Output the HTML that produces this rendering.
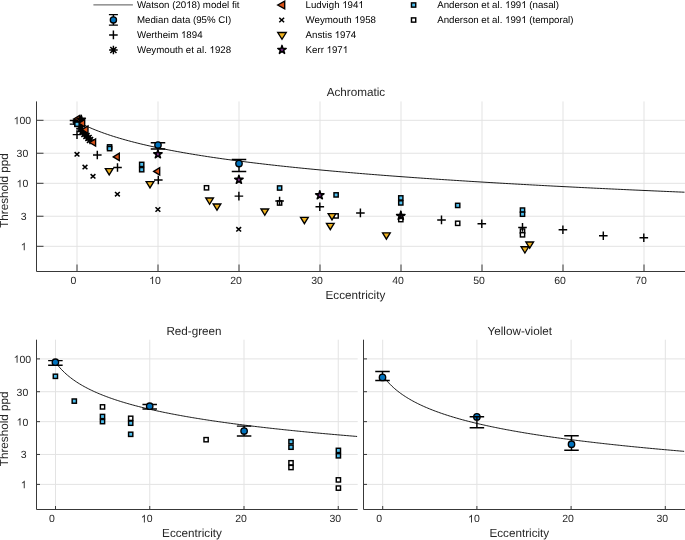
<!DOCTYPE html>
<html><head><meta charset="utf-8"><style>
html,body{margin:0;padding:0;background:#fff;}
body{width:685px;height:540px;overflow:hidden;}
svg{display:block;font-family:"Liberation Sans",sans-serif;will-change:transform;text-rendering:geometricPrecision;}
</style></head><body>
<svg width="685" height="540" viewBox="0 0 685 540">
<rect width="685" height="540" fill="#fff"/>
<path d="M77 101.4V271.5M158 101.4V271.5M239 101.4V271.5M320 101.4V271.5M401 101.4V271.5M482 101.4V271.5M563 101.4V271.5M644 101.4V271.5M36.5 246.3H685M36.5 216.24H685M36.5 183.3H685M36.5 153.24H685M36.5 120.3H685" stroke="#e3e3e3" stroke-width="1" fill="none"/>
<path d="M55.5 339.7V509.5M149.75 339.7V509.5M244 339.7V509.5M338.25 339.7V509.5M36.5 484.4H357.7M36.5 454.46H357.7M36.5 421.65H357.7M36.5 391.71H357.7M36.5 358.9H357.7" stroke="#e3e3e3" stroke-width="1" fill="none"/>
<path d="M382.7 339.7V509.5M476.9 339.7V509.5M571.1 339.7V509.5M665.3 339.7V509.5M363.5 484.4H685M363.5 454.46H685M363.5 421.65H685M363.5 391.71H685M363.5 358.9H685" stroke="#e3e3e3" stroke-width="1" fill="none"/>
<path d="M77 121.42L80.04 123.02L83.08 124.54L86.11 125.98L89.15 127.35L92.19 128.65L95.22 129.9L98.26 131.09L101.3 132.23L104.34 133.33L107.38 134.38L110.41 135.4L113.45 136.38L116.49 137.32L119.53 138.24L122.56 139.12L125.6 139.98L128.64 140.81L131.68 141.62L134.71 142.41L137.75 143.17L140.79 143.91L143.82 144.63L146.86 145.34L149.9 146.03L152.94 146.7L155.97 147.35L159.01 147.99L162.05 148.62L165.09 149.23L168.12 149.82L171.16 150.41L174.2 150.98L177.24 151.54L180.27 152.09L183.31 152.63L186.35 153.16L189.39 153.68L192.43 154.19L195.46 154.69L198.5 155.18L201.54 155.67L204.57 156.14L207.61 156.61L210.65 157.07L213.69 157.52L216.72 157.96L219.76 158.4L222.8 158.83L225.84 159.25L228.88 159.67L231.91 160.08L234.95 160.49L237.99 160.89L241.03 161.28L244.06 161.67L247.1 162.05L250.14 162.43L253.17 162.8L256.21 163.17L259.25 163.53L262.29 163.89L265.32 164.24L268.36 164.59L271.4 164.93L274.44 165.27L277.48 165.61L280.51 165.94L283.55 166.27L286.59 166.59L289.62 166.91L292.66 167.23L295.7 167.54L298.74 167.85L301.77 168.16L304.81 168.46L307.85 168.76L310.89 169.06L313.92 169.35L316.96 169.64L320 169.93L323.04 170.21L326.07 170.49L329.11 170.77L332.15 171.05L335.19 171.32L338.22 171.59L341.26 171.86L344.3 172.12L347.34 172.39L350.38 172.65L353.41 172.9L356.45 173.16L359.49 173.41L362.52 173.66L365.56 173.91L368.6 174.16L371.64 174.4L374.68 174.64L377.71 174.88L380.75 175.12L383.79 175.36L386.82 175.59L389.86 175.82L392.9 176.05L395.94 176.28L398.97 176.51L402.01 176.73L405.05 176.95L408.09 177.17L411.12 177.39L414.16 177.61L417.2 177.82L420.24 178.04L423.27 178.25L426.31 178.46L429.35 178.67L432.39 178.88L435.43 179.08L438.46 179.29L441.5 179.49L444.54 179.69L447.57 179.89L450.61 180.09L453.65 180.29L456.69 180.48L459.72 180.68L462.76 180.87L465.8 181.06L468.84 181.25L471.88 181.44L474.91 181.63L477.95 181.81L480.99 182L484.02 182.18L487.06 182.37L490.1 182.55L493.14 182.73L496.17 182.91L499.21 183.08L502.25 183.26L505.29 183.44L508.32 183.61L511.36 183.78L514.4 183.96L517.44 184.13L520.47 184.3L523.51 184.47L526.55 184.64L529.59 184.8L532.62 184.97L535.66 185.13L538.7 185.3L541.74 185.46L544.77 185.62L547.81 185.79L550.85 185.95L553.89 186.11L556.92 186.26L559.96 186.42L563 186.58L566.04 186.73L569.08 186.89L572.11 187.04L575.15 187.2L578.19 187.35L581.22 187.5L584.26 187.65L587.3 187.8L590.34 187.95L593.38 188.1L596.41 188.25L599.45 188.39L602.49 188.54L605.52 188.68L608.56 188.83L611.6 188.97L614.64 189.12L617.67 189.26L620.71 189.4L623.75 189.54L626.79 189.68L629.82 189.82L632.86 189.96L635.9 190.1L638.94 190.23L641.98 190.37L645.01 190.51L648.05 190.64L651.09 190.78L654.12 190.91L657.16 191.04L660.2 191.18L663.24 191.31L666.27 191.44L669.31 191.57L672.35 191.7L675.39 191.83L678.42 191.96L681.46 192.09L684.5 192.21" stroke="#000" stroke-width="0.9" fill="none"/>
<rect x="204.38" y="185.68" width="4.25" height="4.25" fill="#fff" stroke="#000" stroke-width="1.4500000000000002"/>
<rect x="277.48" y="200.88" width="4.25" height="4.25" fill="#fff" stroke="#000" stroke-width="1.4500000000000002"/>
<rect x="333.98" y="213.78" width="4.25" height="4.25" fill="#fff" stroke="#000" stroke-width="1.4500000000000002"/>
<rect x="398.68" y="217.47" width="4.25" height="4.25" fill="#fff" stroke="#000" stroke-width="1.4500000000000002"/>
<rect x="455.57" y="221.18" width="4.25" height="4.25" fill="#fff" stroke="#000" stroke-width="1.4500000000000002"/>
<rect x="520.38" y="228.97" width="4.25" height="4.25" fill="#fff" stroke="#000" stroke-width="1.4500000000000002"/>
<rect x="520.38" y="232.68" width="4.25" height="4.25" fill="#fff" stroke="#000" stroke-width="1.4500000000000002"/>
<rect x="74.88" y="122.17" width="4.25" height="4.25" fill="#4DBEEE" stroke="#000" stroke-width="1.4500000000000002"/>
<rect x="107.47" y="144.78" width="4.25" height="4.25" fill="#4DBEEE" stroke="#000" stroke-width="1.4500000000000002"/>
<rect x="107.47" y="146.47" width="4.25" height="4.25" fill="#4DBEEE" stroke="#000" stroke-width="1.4500000000000002"/>
<rect x="139.57" y="162.28" width="4.25" height="4.25" fill="#4DBEEE" stroke="#000" stroke-width="1.4500000000000002"/>
<rect x="139.57" y="167.57" width="4.25" height="4.25" fill="#4DBEEE" stroke="#000" stroke-width="1.4500000000000002"/>
<rect x="277.48" y="185.88" width="4.25" height="4.25" fill="#4DBEEE" stroke="#000" stroke-width="1.4500000000000002"/>
<rect x="333.98" y="192.78" width="4.25" height="4.25" fill="#4DBEEE" stroke="#000" stroke-width="1.4500000000000002"/>
<rect x="398.68" y="195.78" width="4.25" height="4.25" fill="#4DBEEE" stroke="#000" stroke-width="1.4500000000000002"/>
<rect x="398.68" y="200.78" width="4.25" height="4.25" fill="#4DBEEE" stroke="#000" stroke-width="1.4500000000000002"/>
<rect x="455.57" y="203.28" width="4.25" height="4.25" fill="#4DBEEE" stroke="#000" stroke-width="1.4500000000000002"/>
<rect x="520.38" y="207.97" width="4.25" height="4.25" fill="#4DBEEE" stroke="#000" stroke-width="1.4500000000000002"/>
<rect x="520.38" y="212.07" width="4.25" height="4.25" fill="#4DBEEE" stroke="#000" stroke-width="1.4500000000000002"/>
<path d="M105.35 168.6L113.05 168.6L109.2 174.9Z" fill="#EDB120" stroke="#000" stroke-width="1.35" stroke-linejoin="miter"/>
<path d="M146.15 181.55L153.85 181.55L150 187.85Z" fill="#EDB120" stroke="#000" stroke-width="1.35" stroke-linejoin="miter"/>
<path d="M205.75 197.95L213.45 197.95L209.6 204.25Z" fill="#EDB120" stroke="#000" stroke-width="1.35" stroke-linejoin="miter"/>
<path d="M213.15 203.95L220.85 203.95L217 210.25Z" fill="#EDB120" stroke="#000" stroke-width="1.35" stroke-linejoin="miter"/>
<path d="M260.95 208.95L268.65 208.95L264.8 215.25Z" fill="#EDB120" stroke="#000" stroke-width="1.35" stroke-linejoin="miter"/>
<path d="M300.55 217.35L308.25 217.35L304.4 223.65Z" fill="#EDB120" stroke="#000" stroke-width="1.35" stroke-linejoin="miter"/>
<path d="M328.15 213.55L335.85 213.55L332 219.85Z" fill="#EDB120" stroke="#000" stroke-width="1.35" stroke-linejoin="miter"/>
<path d="M326.45 223.35L334.15 223.35L330.3 229.65Z" fill="#EDB120" stroke="#000" stroke-width="1.35" stroke-linejoin="miter"/>
<path d="M382.55 232.85L390.25 232.85L386.4 239.15Z" fill="#EDB120" stroke="#000" stroke-width="1.35" stroke-linejoin="miter"/>
<path d="M525.85 241.95L533.55 241.95L529.7 248.25Z" fill="#EDB120" stroke="#000" stroke-width="1.35" stroke-linejoin="miter"/>
<path d="M521.05 246.75L528.75 246.75L524.9 253.05Z" fill="#EDB120" stroke="#000" stroke-width="1.35" stroke-linejoin="miter"/>
<path d="M77 120.4V124.1M69.75 120.4H84.25M69.75 124.1H84.25" stroke="#000" stroke-width="1.45" fill="none"/>
<circle cx="77" cy="122.3" r="3.2" fill="#0072BD" stroke="#000" stroke-width="1.35"/>
<path d="M73.6 119L79.6 115.35L79.6 122.65Z" fill="#D95319" stroke="#000" stroke-width="1.35" stroke-linejoin="miter"/>
<path d="M72.5 122H79.5M76 118.5V125.5M73.48 119.48L78.52 124.52M73.48 124.52L78.52 119.48" stroke="#000" stroke-width="1.45" fill="none"/>
<path d="M81.2 115.2L82.16 118.28L85.38 118.24L82.75 120.1L83.79 123.16L81.2 121.23L78.61 123.16L79.65 120.1L77.02 118.24L80.24 118.28Z" fill="#000" stroke="#000" stroke-width="1.55" stroke-linejoin="round"/>
<path d="M76.5 126.4H85.1M80.8 122.1V130.7M77.7 123.3L83.9 129.5M77.7 129.5L83.9 123.3" stroke="#000" stroke-width="1.45" fill="none"/>
<path d="M76.2 128.8H84.8M80.5 124.5V133.1M77.4 125.7L83.6 131.9M77.4 131.9L83.6 125.7" stroke="#000" stroke-width="1.45" fill="none"/>
<path d="M78.2 131.5H86.8M82.5 127.2V135.8M79.4 128.4L85.6 134.6M79.4 134.6L85.6 128.4" stroke="#000" stroke-width="1.45" fill="none"/>
<path d="M80.2 134H88.8M84.5 129.7V138.3M81.4 130.9L87.6 137.1M81.4 137.1L87.6 130.9" stroke="#000" stroke-width="1.45" fill="none"/>
<path d="M82.2 136H90.8M86.5 131.7V140.3M83.4 132.9L89.6 139.1M83.4 139.1L89.6 132.9" stroke="#000" stroke-width="1.45" fill="none"/>
<path d="M84.2 138H92.8M88.5 133.7V142.3M85.4 134.9L91.6 141.1M85.4 141.1L91.6 134.9" stroke="#000" stroke-width="1.45" fill="none"/>
<path d="M85.7 140H94.3M90 135.7V144.3M86.9 136.9L93.1 143.1M86.9 143.1L93.1 136.9" stroke="#000" stroke-width="1.45" fill="none"/>
<path d="M78.7 123.2L84.7 119.55L84.7 126.85Z" fill="#D95319" stroke="#000" stroke-width="1.35" stroke-linejoin="miter"/>
<path d="M82 129.6L88 125.95L88 133.25Z" fill="#D95319" stroke="#000" stroke-width="1.35" stroke-linejoin="miter"/>
<path d="M89.6 142.5L95.6 138.85L95.6 146.15Z" fill="#D95319" stroke="#000" stroke-width="1.35" stroke-linejoin="miter"/>
<path d="M113.3 156.9L119.3 153.25L119.3 160.55Z" fill="#D95319" stroke="#000" stroke-width="1.35" stroke-linejoin="miter"/>
<path d="M153.7 171.4L159.7 167.75L159.7 175.05Z" fill="#D95319" stroke="#000" stroke-width="1.35" stroke-linejoin="miter"/>
<rect x="74.88" y="122.08" width="4.25" height="4.25" fill="#4DBEEE" stroke="#000" stroke-width="1.4500000000000002"/>
<path d="M158 142.8V148.9M150.75 142.8H165.25M150.75 148.9H165.25" stroke="#000" stroke-width="1.45" fill="none"/>
<path d="M239 159.4V171.5M231.75 159.4H246.25M231.75 171.5H246.25" stroke="#000" stroke-width="1.45" fill="none"/>
<circle cx="158" cy="145" r="3.2" fill="#0072BD" stroke="#000" stroke-width="1.35"/>
<circle cx="239" cy="163.5" r="3.2" fill="#0072BD" stroke="#000" stroke-width="1.35"/>
<path d="M157.9 149.8L158.86 152.88L162.08 152.84L159.45 154.7L160.49 157.76L157.9 155.83L155.31 157.76L156.35 154.7L153.72 152.84L156.94 152.88Z" fill="#7E2F8E" stroke="#000" stroke-width="1.55" stroke-linejoin="round"/>
<path d="M238.9 175.3L239.86 178.38L243.08 178.34L240.45 180.2L241.49 183.26L238.9 181.33L236.31 183.26L237.35 180.2L234.72 178.34L237.94 178.38Z" fill="#7E2F8E" stroke="#000" stroke-width="1.55" stroke-linejoin="round"/>
<path d="M319.8 190.8L320.76 193.88L323.98 193.84L321.35 195.7L322.39 198.76L319.8 196.83L317.21 198.76L318.25 195.7L315.62 193.84L318.84 193.88Z" fill="#7E2F8E" stroke="#000" stroke-width="1.55" stroke-linejoin="round"/>
<path d="M400.8 211.4L401.76 214.48L404.98 214.44L402.35 216.3L403.39 219.36L400.8 217.43L398.21 219.36L399.25 216.3L396.62 214.44L399.84 214.48Z" fill="#7E2F8E" stroke="#000" stroke-width="1.55" stroke-linejoin="round"/>
<path d="M72.7 134.6H81.3M77 130.3V138.9" stroke="#000" stroke-width="1.45" fill="none"/>
<path d="M93 155H101.6M97.3 150.7V159.3" stroke="#000" stroke-width="1.45" fill="none"/>
<path d="M113.2 167.5H121.8M117.5 163.2V171.8" stroke="#000" stroke-width="1.45" fill="none"/>
<path d="M154 180H162.6M158.3 175.7V184.3" stroke="#000" stroke-width="1.45" fill="none"/>
<path d="M234.6 196.1H243.2M238.9 191.8V200.4" stroke="#000" stroke-width="1.45" fill="none"/>
<path d="M275.3 201H283.9M279.6 196.7V205.3" stroke="#000" stroke-width="1.45" fill="none"/>
<path d="M315.5 206.8H324.1M319.8 202.5V211.1" stroke="#000" stroke-width="1.45" fill="none"/>
<path d="M356.1 212.9H364.7M360.4 208.6V217.2" stroke="#000" stroke-width="1.45" fill="none"/>
<path d="M396.5 215H405.1M400.8 210.7V219.3" stroke="#000" stroke-width="1.45" fill="none"/>
<path d="M437.2 219.9H445.8M441.5 215.6V224.2" stroke="#000" stroke-width="1.45" fill="none"/>
<path d="M477.5 223.8H486.1M481.8 219.5V228.1" stroke="#000" stroke-width="1.45" fill="none"/>
<path d="M518.2 227.4H526.8M522.5 223.1V231.7" stroke="#000" stroke-width="1.45" fill="none"/>
<path d="M558.6 229.8H567.2M562.9 225.5V234.1" stroke="#000" stroke-width="1.45" fill="none"/>
<path d="M599 235.7H607.6M603.3 231.4V240" stroke="#000" stroke-width="1.45" fill="none"/>
<path d="M639.5 237.8H648.1M643.8 233.5V242.1" stroke="#000" stroke-width="1.45" fill="none"/>
<path d="M74.6 152.1L79.4 156.5M74.6 156.5L79.4 152.1" stroke="#000" stroke-width="1.55" fill="none"/>
<path d="M82.6 164.9L87.4 169.3M82.6 169.3L87.4 164.9" stroke="#000" stroke-width="1.55" fill="none"/>
<path d="M90.6 174.1L95.4 178.5M90.6 178.5L95.4 174.1" stroke="#000" stroke-width="1.55" fill="none"/>
<path d="M115 192L119.8 196.4M115 196.4L119.8 192" stroke="#000" stroke-width="1.55" fill="none"/>
<path d="M155.5 207.3L160.3 211.7M155.5 211.7L160.3 207.3" stroke="#000" stroke-width="1.55" fill="none"/>
<path d="M236.3 227.1L241.1 231.5M236.3 231.5L241.1 227.1" stroke="#000" stroke-width="1.55" fill="none"/>
<path d="M55.5 362.24L57.01 364.27L58.52 366.15L60.02 367.91L61.53 369.55L63.04 371.1L64.55 372.56L66.06 373.95L67.56 375.26L69.07 376.51L70.58 377.7L72.09 378.85L73.6 379.94L75.1 380.99L76.61 382L78.12 382.97L79.63 383.91L81.14 384.81L82.64 385.68L84.15 386.53L85.66 387.35L87.17 388.14L88.68 388.91L90.18 389.66L91.69 390.39L93.2 391.1L94.71 391.79L96.22 392.46L97.72 393.11L99.23 393.75L100.74 394.38L102.25 394.99L103.76 395.58L105.26 396.16L106.77 396.73L108.28 397.29L109.79 397.83L111.3 398.37L112.8 398.89L114.31 399.4L115.82 399.91L117.33 400.4L118.84 400.89L120.34 401.36L121.85 401.83L123.36 402.29L124.87 402.74L126.38 403.18L127.88 403.62L129.39 404.05L130.9 404.47L132.41 404.89L133.92 405.29L135.42 405.7L136.93 406.09L138.44 406.48L139.95 406.87L141.46 407.25L142.96 407.62L144.47 407.99L145.98 408.35L147.49 408.71L149 409.06L150.5 409.41L152.01 409.76L153.52 410.1L155.03 410.43L156.54 410.76L158.04 411.09L159.55 411.41L161.06 411.73L162.57 412.05L164.08 412.36L165.58 412.66L167.09 412.97L168.6 413.27L170.11 413.57L171.62 413.86L173.12 414.15L174.63 414.44L176.14 414.72L177.65 415L179.16 415.28L180.66 415.56L182.17 415.83L183.68 416.1L185.19 416.37L186.7 416.63L188.2 416.89L189.71 417.15L191.22 417.41L192.73 417.66L194.24 417.91L195.74 418.16L197.25 418.41L198.76 418.65L200.27 418.89L201.78 419.13L203.28 419.37L204.79 419.61L206.3 419.84L207.81 420.07L209.32 420.3L210.82 420.53L212.33 420.75L213.84 420.98L215.35 421.2L216.86 421.42L218.36 421.63L219.87 421.85L221.38 422.06L222.89 422.28L224.4 422.49L225.9 422.7L227.41 422.9L228.92 423.11L230.43 423.31L231.94 423.52L233.44 423.72L234.95 423.92L236.46 424.12L237.97 424.31L239.48 424.51L240.98 424.7L242.49 424.89L244 425.08L245.51 425.27L247.02 425.46L248.52 425.65L250.03 425.83L251.54 426.02L253.05 426.2L254.56 426.38L256.06 426.56L257.57 426.74L259.08 426.92L260.59 427.09L262.1 427.27L263.6 427.44L265.11 427.62L266.62 427.79L268.13 427.96L269.64 428.13L271.14 428.3L272.65 428.47L274.16 428.63L275.67 428.8L277.18 428.96L278.68 429.12L280.19 429.29L281.7 429.45L283.21 429.61L284.72 429.77L286.22 429.93L287.73 430.08L289.24 430.24L290.75 430.4L292.26 430.55L293.76 430.7L295.27 430.86L296.78 431.01L298.29 431.16L299.8 431.31L301.3 431.46L302.81 431.61L304.32 431.75L305.83 431.9L307.34 432.05L308.84 432.19L310.35 432.34L311.86 432.48L313.37 432.62L314.88 432.77L316.38 432.91L317.89 433.05L319.4 433.19L320.91 433.33L322.42 433.46L323.92 433.6L325.43 433.74L326.94 433.87L328.45 434.01L329.96 434.14L331.46 434.28L332.97 434.41L334.48 434.54L335.99 434.68L337.5 434.81L339 434.94L340.51 435.07L342.02 435.2L343.53 435.33L345.04 435.45L346.54 435.58L348.05 435.71L349.56 435.83L351.07 435.96L352.58 436.09L354.08 436.21L355.59 436.33L357.1 436.46" stroke="#000" stroke-width="0.9" fill="none"/>
<rect x="100.38" y="404.77" width="4.25" height="4.25" fill="#fff" stroke="#000" stroke-width="1.4500000000000002"/>
<rect x="128.57" y="416.18" width="4.25" height="4.25" fill="#fff" stroke="#000" stroke-width="1.4500000000000002"/>
<rect x="203.97" y="437.57" width="4.25" height="4.25" fill="#fff" stroke="#000" stroke-width="1.4500000000000002"/>
<rect x="288.88" y="460.68" width="4.25" height="4.25" fill="#fff" stroke="#000" stroke-width="1.4500000000000002"/>
<rect x="288.88" y="465.38" width="4.25" height="4.25" fill="#fff" stroke="#000" stroke-width="1.4500000000000002"/>
<rect x="336.27" y="477.77" width="4.25" height="4.25" fill="#fff" stroke="#000" stroke-width="1.4500000000000002"/>
<rect x="336.27" y="485.98" width="4.25" height="4.25" fill="#fff" stroke="#000" stroke-width="1.4500000000000002"/>
<rect x="53.27" y="374.18" width="4.25" height="4.25" fill="#4DBEEE" stroke="#000" stroke-width="1.4500000000000002"/>
<rect x="72.17" y="398.98" width="4.25" height="4.25" fill="#4DBEEE" stroke="#000" stroke-width="1.4500000000000002"/>
<rect x="100.38" y="414.38" width="4.25" height="4.25" fill="#4DBEEE" stroke="#000" stroke-width="1.4500000000000002"/>
<rect x="100.38" y="419.48" width="4.25" height="4.25" fill="#4DBEEE" stroke="#000" stroke-width="1.4500000000000002"/>
<rect x="128.57" y="421.07" width="4.25" height="4.25" fill="#4DBEEE" stroke="#000" stroke-width="1.4500000000000002"/>
<rect x="128.57" y="432.18" width="4.25" height="4.25" fill="#4DBEEE" stroke="#000" stroke-width="1.4500000000000002"/>
<rect x="288.88" y="439.57" width="4.25" height="4.25" fill="#4DBEEE" stroke="#000" stroke-width="1.4500000000000002"/>
<rect x="288.88" y="445.07" width="4.25" height="4.25" fill="#4DBEEE" stroke="#000" stroke-width="1.4500000000000002"/>
<rect x="336.27" y="448.27" width="4.25" height="4.25" fill="#4DBEEE" stroke="#000" stroke-width="1.4500000000000002"/>
<rect x="336.27" y="453.68" width="4.25" height="4.25" fill="#4DBEEE" stroke="#000" stroke-width="1.4500000000000002"/>
<path d="M55.4 360.6V365.2M48.15 360.6H62.65M48.15 365.2H62.65" stroke="#000" stroke-width="1.45" fill="none"/>
<circle cx="55.4" cy="362.2" r="3.2" fill="#0072BD" stroke="#000" stroke-width="1.35"/>
<path d="M149.7 404.5V408.9M142.45 404.5H156.95M142.45 408.9H156.95" stroke="#000" stroke-width="1.45" fill="none"/>
<circle cx="149.7" cy="406.2" r="3.2" fill="#0072BD" stroke="#000" stroke-width="1.35"/>
<path d="M244.1 426.1V436M236.85 426.1H251.35M236.85 436H251.35" stroke="#000" stroke-width="1.45" fill="none"/>
<circle cx="244.1" cy="431" r="3.2" fill="#0072BD" stroke="#000" stroke-width="1.35"/>
<path d="M382.7 375.52L384.21 377.57L385.71 379.47L387.22 381.25L388.73 382.92L390.24 384.48L391.74 385.97L393.25 387.37L394.76 388.71L396.26 389.98L397.77 391.19L399.28 392.35L400.79 393.47L402.29 394.54L403.8 395.56L405.31 396.56L406.82 397.51L408.32 398.43L409.83 399.32L411.34 400.19L412.84 401.02L414.35 401.83L415.86 402.62L417.37 403.38L418.87 404.13L420.38 404.85L421.89 405.56L423.39 406.24L424.9 406.91L426.41 407.56L427.92 408.2L429.42 408.82L430.93 409.43L432.44 410.03L433.94 410.61L435.45 411.18L436.96 411.74L438.47 412.28L439.97 412.82L441.48 413.35L442.99 413.86L444.5 414.37L446 414.86L447.51 415.35L449.02 415.83L450.52 416.3L452.03 416.76L453.54 417.21L455.05 417.66L456.55 418.1L458.06 418.53L459.57 418.96L461.07 419.38L462.58 419.79L464.09 420.19L465.6 420.59L467.1 420.99L468.61 421.38L470.12 421.76L471.62 422.14L473.13 422.51L474.64 422.88L476.15 423.24L477.65 423.6L479.16 423.95L480.67 424.3L482.18 424.64L483.68 424.98L485.19 425.31L486.7 425.65L488.2 425.97L489.71 426.3L491.22 426.61L492.73 426.93L494.23 427.24L495.74 427.55L497.25 427.85L498.75 428.16L500.26 428.45L501.77 428.75L503.28 429.04L504.78 429.33L506.29 429.61L507.8 429.9L509.3 430.17L510.81 430.45L512.32 430.72L513.83 431L515.33 431.26L516.84 431.53L518.35 431.79L519.86 432.05L521.36 432.31L522.87 432.57L524.38 432.82L525.88 433.07L527.39 433.32L528.9 433.56L530.41 433.81L531.91 434.05L533.42 434.29L534.93 434.53L536.43 434.76L537.94 434.99L539.45 435.23L540.96 435.45L542.46 435.68L543.97 435.91L545.48 436.13L546.98 436.35L548.49 436.57L550 436.79L551.51 437.01L553.01 437.22L554.52 437.43L556.03 437.64L557.54 437.85L559.04 438.06L560.55 438.27L562.06 438.47L563.56 438.68L565.07 438.88L566.58 439.08L568.09 439.28L569.59 439.47L571.1 439.67L572.61 439.86L574.11 440.06L575.62 440.25L577.13 440.44L578.64 440.63L580.14 440.82L581.65 441L583.16 441.19L584.66 441.37L586.17 441.55L587.68 441.73L589.19 441.91L590.69 442.09L592.2 442.27L593.71 442.45L595.22 442.62L596.72 442.8L598.23 442.97L599.74 443.14L601.24 443.31L602.75 443.48L604.26 443.65L605.77 443.82L607.27 443.99L608.78 444.15L610.29 444.32L611.79 444.48L613.3 444.64L614.81 444.8L616.32 444.96L617.82 445.12L619.33 445.28L620.84 445.44L622.34 445.6L623.85 445.75L625.36 445.91L626.87 446.06L628.37 446.22L629.88 446.37L631.39 446.52L632.9 446.67L634.4 446.82L635.91 446.97L637.42 447.12L638.92 447.26L640.43 447.41L641.94 447.56L643.45 447.7L644.95 447.85L646.46 447.99L647.97 448.13L649.47 448.27L650.98 448.42L652.49 448.56L654 448.7L655.5 448.83L657.01 448.97L658.52 449.11L660.02 449.25L661.53 449.38L663.04 449.52L664.55 449.65L666.05 449.79L667.56 449.92L669.07 450.05L670.58 450.19L672.08 450.32L673.59 450.45L675.1 450.58L676.6 450.71L678.11 450.84L679.62 450.97L681.13 451.09L682.63 451.22L684.14 451.35" stroke="#000" stroke-width="0.9" fill="none"/>
<path d="M382.5 371.4V380.4M375.25 371.4H389.75M375.25 380.4H389.75" stroke="#000" stroke-width="1.45" fill="none"/>
<circle cx="382.5" cy="377.4" r="3.2" fill="#0072BD" stroke="#000" stroke-width="1.35"/>
<circle cx="476.9" cy="416.9" r="3.2" fill="#0072BD" stroke="#000" stroke-width="1.35"/>
<path d="M476.9 416.8V427.7M469.65 416.8H484.15M469.65 427.7H484.15" stroke="#000" stroke-width="1.45" fill="none"/>
<path d="M571.5 435.8V450.3M564.25 435.8H578.75M564.25 450.3H578.75" stroke="#000" stroke-width="1.45" fill="none"/>
<circle cx="571.5" cy="444.2" r="3.2" fill="#0072BD" stroke="#000" stroke-width="1.35"/>
<path d="M77 271.5V264.5M158 271.5V264.5M239 271.5V264.5M320 271.5V264.5M401 271.5V264.5M482 271.5V264.5M563 271.5V264.5M644 271.5V264.5M36.5 246.3H43.5M36.5 216.24H43.5M36.5 183.3H43.5M36.5 153.24H43.5M36.5 120.3H43.5" stroke="#383838" stroke-width="1" fill="none"/>
<path d="M36.5 101.4V271.5H685" stroke="#383838" stroke-width="1" fill="none"/>
<path d="M55.5 509.5V506M149.75 509.5V506M244 509.5V506M338.25 509.5V506M36.5 484.4H40M36.5 454.46H40M36.5 421.65H40M36.5 391.71H40M36.5 358.9H40" stroke="#383838" stroke-width="1" fill="none"/>
<path d="M36.5 339.7V509.5H357.7" stroke="#383838" stroke-width="1" fill="none"/>
<path d="M382.7 509.5V506M476.9 509.5V506M571.1 509.5V506M665.3 509.5V506M363.5 484.4H367M363.5 454.46H367M363.5 421.65H367M363.5 391.71H367M363.5 358.9H367" stroke="#383838" stroke-width="1" fill="none"/>
<path d="M363.5 339.7V509.5H685" stroke="#383838" stroke-width="1" fill="none"/>
<text x="73.4" y="284" font-size="10.5" text-anchor="middle" fill="#262626" >0</text>
<text x="155" y="284" font-size="10.5" text-anchor="middle" fill="#262626" > 0</text>
<path transform="translate(149.16 284) scale(0.005127 -0.005127)" d="M763 0H583V1147Q518 1085 412.5 1023T223 930V1104Q374 1175 487 1276T647 1472H763V0Z" fill="#262626"/>
<text x="236" y="284" font-size="10.5" text-anchor="middle" fill="#262626" >20</text>
<text x="317" y="284" font-size="10.5" text-anchor="middle" fill="#262626" >30</text>
<text x="398" y="284" font-size="10.5" text-anchor="middle" fill="#262626" >40</text>
<text x="479" y="284" font-size="10.5" text-anchor="middle" fill="#262626" >50</text>
<text x="560" y="284" font-size="10.5" text-anchor="middle" fill="#262626" >60</text>
<text x="641" y="284" font-size="10.5" text-anchor="middle" fill="#262626" >70</text>
<text x="23.7" y="250.2" font-size="10.5" text-anchor="middle" fill="#262626" > </text>
<path transform="translate(20.78 250.2) scale(0.005127 -0.005127)" d="M763 0H583V1147Q518 1085 412.5 1023T223 930V1104Q374 1175 487 1276T647 1472H763V0Z" fill="#262626"/>
<text x="23.7" y="219.74" font-size="10.5" text-anchor="middle" fill="#262626" >3</text>
<text x="22.4" y="187.2" font-size="10.5" text-anchor="middle" fill="#262626" > 0</text>
<path transform="translate(16.56 187.2) scale(0.005127 -0.005127)" d="M763 0H583V1147Q518 1085 412.5 1023T223 930V1104Q374 1175 487 1276T647 1472H763V0Z" fill="#262626"/>
<text x="22.4" y="157.14" font-size="10.5" text-anchor="middle" fill="#262626" >30</text>
<text x="22.4" y="124.2" font-size="10.5" text-anchor="middle" fill="#262626" > 00</text>
<path transform="translate(13.63 124.2) scale(0.005127 -0.005127)" d="M763 0H583V1147Q518 1085 412.5 1023T223 930V1104Q374 1175 487 1276T647 1472H763V0Z" fill="#262626"/>
<text x="51.9" y="522.4" font-size="10.5" text-anchor="middle" fill="#262626" >0</text>
<text x="146.75" y="522.4" font-size="10.5" text-anchor="middle" fill="#262626" > 0</text>
<path transform="translate(140.91 522.4) scale(0.005127 -0.005127)" d="M763 0H583V1147Q518 1085 412.5 1023T223 930V1104Q374 1175 487 1276T647 1472H763V0Z" fill="#262626"/>
<text x="241" y="522.4" font-size="10.5" text-anchor="middle" fill="#262626" >20</text>
<text x="335.25" y="522.4" font-size="10.5" text-anchor="middle" fill="#262626" >30</text>
<text x="379.1" y="522.4" font-size="10.5" text-anchor="middle" fill="#262626" >0</text>
<text x="473.9" y="522.4" font-size="10.5" text-anchor="middle" fill="#262626" > 0</text>
<path transform="translate(468.06 522.4) scale(0.005127 -0.005127)" d="M763 0H583V1147Q518 1085 412.5 1023T223 930V1104Q374 1175 487 1276T647 1472H763V0Z" fill="#262626"/>
<text x="568.1" y="522.4" font-size="10.5" text-anchor="middle" fill="#262626" >20</text>
<text x="662.3" y="522.4" font-size="10.5" text-anchor="middle" fill="#262626" >30</text>
<text x="23.7" y="488.3" font-size="10.5" text-anchor="middle" fill="#262626" > </text>
<path transform="translate(20.78 488.3) scale(0.005127 -0.005127)" d="M763 0H583V1147Q518 1085 412.5 1023T223 930V1104Q374 1175 487 1276T647 1472H763V0Z" fill="#262626"/>
<text x="23.7" y="457.96" font-size="10.5" text-anchor="middle" fill="#262626" >3</text>
<text x="22.4" y="425.55" font-size="10.5" text-anchor="middle" fill="#262626" > 0</text>
<path transform="translate(16.56 425.55) scale(0.005127 -0.005127)" d="M763 0H583V1147Q518 1085 412.5 1023T223 930V1104Q374 1175 487 1276T647 1472H763V0Z" fill="#262626"/>
<text x="22.4" y="395.61" font-size="10.5" text-anchor="middle" fill="#262626" >30</text>
<text x="22.4" y="362.8" font-size="10.5" text-anchor="middle" fill="#262626" > 00</text>
<path transform="translate(13.63 362.8) scale(0.005127 -0.005127)" d="M763 0H583V1147Q518 1085 412.5 1023T223 930V1104Q374 1175 487 1276T647 1472H763V0Z" fill="#262626"/>
<text x="355.9" y="96.1" font-size="11.7" text-anchor="middle" fill="#262626" >Achromatic</text>
<text x="355.4" y="298.8" font-size="11.7" text-anchor="middle" fill="#262626" >Eccentricity</text>
<text x="194" y="334.7" font-size="11.7" text-anchor="middle" fill="#262626" >Red-green</text>
<text x="519.8" y="334.7" font-size="11.7" text-anchor="middle" fill="#262626" >Yellow-violet</text>
<text x="192" y="537" font-size="11.7" text-anchor="middle" fill="#262626" >Eccentricity</text>
<text x="519.3" y="537" font-size="11.7" text-anchor="middle" fill="#262626" >Eccentricity</text>
<text transform="translate(8.3 190.5) rotate(-90)" font-size="11.7" text-anchor="middle" fill="#262626">Threshold ppd</text>
<text transform="translate(8.3 428.8) rotate(-90)" font-size="11.7" text-anchor="middle" fill="#262626">Threshold ppd</text>
<path d="M93.4 4.9H132.9" stroke="#555" stroke-width="1" fill="none"/>
<text x="137" y="8" font-size="9.7" text-anchor="start" fill="#000" >Watson (20 8) model fit</text>
<path transform="translate(186.17 8) scale(0.004736 -0.004736)" d="M763 0H583V1147Q518 1085 412.5 1023T223 930V1104Q374 1175 487 1276T647 1472H763V0Z" fill="#000"/>
<path d="M113.4 14.6V25.1M108.9 14.6H117.9M108.9 25.1H117.9" stroke="#000" stroke-width="1.45" fill="none"/>
<circle cx="113.4" cy="19.9" r="3.1" fill="#0072BD" stroke="#000" stroke-width="1.35"/>
<text x="137" y="23" font-size="9.7" text-anchor="start" fill="#000" >Median data (95% CI)</text>
<path d="M109.1 34.9H117.7M113.4 30.6V39.2" stroke="#000" stroke-width="1.45" fill="none"/>
<text x="137" y="38" font-size="9.7" text-anchor="start" fill="#000" >Wertheim  894</text>
<path transform="translate(180.95 38) scale(0.004736 -0.004736)" d="M763 0H583V1147Q518 1085 412.5 1023T223 930V1104Q374 1175 487 1276T647 1472H763V0Z" fill="#000"/>
<path d="M109.1 50H117.7M113.4 45.7V54.3M110.3 46.9L116.5 53.1M110.3 53.1L116.5 46.9" stroke="#000" stroke-width="1.45" fill="none"/>
<text x="137" y="53" font-size="9.7" text-anchor="start" fill="#000" >Weymouth et al.  928</text>
<path transform="translate(209.5 53) scale(0.004736 -0.004736)" d="M763 0H583V1147Q518 1085 412.5 1023T223 930V1104Q374 1175 487 1276T647 1472H763V0Z" fill="#000"/>
<path d="M277.7 5L284.7 1.1L284.7 8.9Z" fill="#D95319" stroke="#000" stroke-width="1.35" stroke-linejoin="miter"/>
<text x="305.6" y="8" font-size="9.7" text-anchor="start" fill="#000" >Ludvigh  94 </text>
<path transform="translate(342.23 8) scale(0.004736 -0.004736)" d="M763 0H583V1147Q518 1085 412.5 1023T223 930V1104Q374 1175 487 1276T647 1472H763V0Z" fill="#000"/>
<path transform="translate(358.38 8) scale(0.004736 -0.004736)" d="M763 0H583V1147Q518 1085 412.5 1023T223 930V1104Q374 1175 487 1276T647 1472H763V0Z" fill="#000"/>
<path d="M279.3 17.8L284.1 22.2M279.3 22.2L284.1 17.8" stroke="#000" stroke-width="1.55" fill="none"/>
<text x="305.6" y="23" font-size="9.7" text-anchor="start" fill="#000" >Weymouth  958</text>
<path transform="translate(354.41 23) scale(0.004736 -0.004736)" d="M763 0H583V1147Q518 1085 412.5 1023T223 930V1104Q374 1175 487 1276T647 1472H763V0Z" fill="#000"/>
<path d="M277.75 32.5L286.25 32.5L282 39.3Z" fill="#EDB120" stroke="#000" stroke-width="1.35" stroke-linejoin="miter"/>
<text x="305.6" y="38" font-size="9.7" text-anchor="start" fill="#000" >Anstis  974</text>
<path transform="translate(334.66 38) scale(0.004736 -0.004736)" d="M763 0H583V1147Q518 1085 412.5 1023T223 930V1104Q374 1175 487 1276T647 1472H763V0Z" fill="#000"/>
<path d="M282 45.4L282.96 48.48L286.18 48.44L283.55 50.3L284.59 53.36L282 51.43L279.41 53.36L280.45 50.3L277.82 48.44L281.04 48.48Z" fill="#7E2F8E" stroke="#000" stroke-width="1.55" stroke-linejoin="round"/>
<text x="305.6" y="53" font-size="9.7" text-anchor="start" fill="#000" >Kerr  97 </text>
<path transform="translate(326.58 53) scale(0.004736 -0.004736)" d="M763 0H583V1147Q518 1085 412.5 1023T223 930V1104Q374 1175 487 1276T647 1472H763V0Z" fill="#000"/>
<path transform="translate(342.74 53) scale(0.004736 -0.004736)" d="M763 0H583V1147Q518 1085 412.5 1023T223 930V1104Q374 1175 487 1276T647 1472H763V0Z" fill="#000"/>
<rect x="411.48" y="2.88" width="4.25" height="4.25" fill="#4DBEEE" stroke="#000" stroke-width="1.4500000000000002"/>
<text x="437.2" y="8" font-size="9.7" text-anchor="start" fill="#000" >Anderson et al.  99  (nasal)</text>
<path transform="translate(505.04 8) scale(0.004736 -0.004736)" d="M763 0H583V1147Q518 1085 412.5 1023T223 930V1104Q374 1175 487 1276T647 1472H763V0Z" fill="#000"/>
<path transform="translate(521.22 8) scale(0.004736 -0.004736)" d="M763 0H583V1147Q518 1085 412.5 1023T223 930V1104Q374 1175 487 1276T647 1472H763V0Z" fill="#000"/>
<rect x="411.48" y="17.88" width="4.25" height="4.25" fill="#fff" stroke="#000" stroke-width="1.4500000000000002"/>
<text x="437.2" y="23" font-size="9.7" text-anchor="start" fill="#000" >Anderson et al.  99  (temporal)</text>
<path transform="translate(505.04 23) scale(0.004736 -0.004736)" d="M763 0H583V1147Q518 1085 412.5 1023T223 930V1104Q374 1175 487 1276T647 1472H763V0Z" fill="#000"/>
<path transform="translate(521.22 23) scale(0.004736 -0.004736)" d="M763 0H583V1147Q518 1085 412.5 1023T223 930V1104Q374 1175 487 1276T647 1472H763V0Z" fill="#000"/>
</svg>
</body></html>
